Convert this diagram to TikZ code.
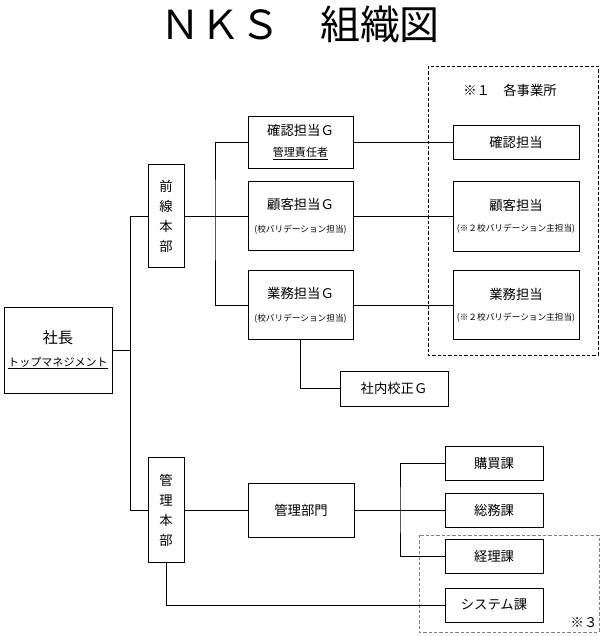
\documentclass[tikz,border=0pt]{standalone}
\usepackage{fontspec}
\setmainfont{Noto Sans CJK JP}
\usetikzlibrary{calc}

\tikzset{
  unit/.style={draw, line width=0.75pt, inner sep=0pt, align=center,
    font=\fontsize{10}{12}\selectfont},
  vunit/.style={unit, minimum width=27pt, font=\fontsize{10}{15}\selectfont},
  link/.style={line width=0.75pt}
}

\begin{document}
\begin{tikzpicture}[x=0.75pt,y=-0.75pt]
  \useasboundingbox (0,0) rectangle (609,636);
  % title
  \node (title) at (300,24) {\fontsize{30}{32}\selectfont ＮＫＳ　組織図};
  % president
  \node[unit, minimum width=81pt, minimum height=64.5pt] (pres) at (58,350)
    {{\fontsize{11.5}{13}\selectfont 社長}\\[5pt]{\fontsize{8.3}{10}\selectfont\underline{トップマネジメント}}};
  % head offices (vertical text)
  \node[vunit, minimum height=77.25pt] (front) at (166,216) {前\\線\\本\\部};
  \node[vunit, minimum height=78.75pt] (admin) at (166,510) {管\\理\\本\\部};
  % groups under the front office
  \node[unit, minimum width=78.75pt, minimum height=39pt] (checkG) at (300.5,142)
    {確認担当Ｇ\\[4pt]{\fontsize{8.3}{10}\selectfont\underline{管理責任者}}};
  \node[unit, minimum width=78.75pt, minimum height=51.75pt] (custG) at (300.5,216)
    {顧客担当Ｇ\\[5pt]{\fontsize{6.5}{7}\selectfont (校バリデーション担当)}};
  \node[unit, minimum width=78.75pt, minimum height=51.75pt] (bizG) at (300.5,305)
    {業務担当Ｇ\\[5pt]{\fontsize{6.5}{7}\selectfont (校バリデーション担当)}};
  \node[unit, minimum width=81pt, minimum height=26.25pt] (calG) at (394,388.5) {社内校正Ｇ};
  % each site
  \draw[dashed, dash pattern=on 2.5pt off 1.5pt, line width=0.6pt] (428,66) rectangle (598,355);
  \node (siteLbl) at (510,90) {\fontsize{10}{12}\selectfont ※１　各事業所};
  \node[unit, minimum width=94.5pt, minimum height=25.5pt] (check) at (516,142) {確認担当};
  \node[unit, minimum width=94.5pt, minimum height=52.5pt] (cust) at (516,216)
    {顧客担当\\[4pt]{\fontsize{6.5}{7}\selectfont (※２校バリデーション主担当)}};
  \node[unit, minimum width=94.5pt, minimum height=51.75pt] (biz) at (516,305)
    {業務担当\\[4pt]{\fontsize{6.5}{7}\selectfont (※２校バリデーション主担当)}};
  % administration
  \node[unit, minimum width=79.5pt, minimum height=40.5pt] (mgmt) at (301,510) {管理部門};
  \node[unit, minimum width=73.5pt, minimum height=25.5pt] (buy) at (494,463) {購買課};
  \node[unit, minimum width=73.5pt, minimum height=25.5pt] (gen) at (494,510) {総務課};
  \node[unit, minimum width=73.5pt, minimum height=25.5pt] (acct) at (494,556) {経理課};
  \node[unit, minimum width=73.5pt, minimum height=25.5pt] (sys) at (494,605) {システム課};
  \draw[gray, dashed, dash pattern=on 2.5pt off 1.5pt, line width=0.6pt] (419,535) rectangle (599,632);
  \node (note3) at (584,623) {\fontsize{10}{12}\selectfont ※３};
  % junctions
  \coordinate (trunk) at (130,216);
  \coordinate (fj) at (215,216);
  \coordinate (aj) at (400,510);
  % connectors
  \draw[link] (front.west) -- (trunk) |- (admin.west);
  \draw[link] (pres.east) -- (pres.east -| trunk);
  \draw[link] (front.east) -- (fj);
  \draw[link] (checkG.west) -| (fj) |- (bizG.west);
  \draw[link] (fj) -- (custG.west);
  \draw[link] (checkG.east) -- (check.west);
  \draw[link] (custG.east) -- (cust.west);
  \draw[link] (bizG.east) -- (biz.west);
  \draw[link] (bizG.south) |- (calG.west);
  \draw[link] (admin.east) -- (mgmt.west);
  \draw[link] (mgmt.east) -- (aj);
  \draw[link] (buy.west) -| (aj) |- (acct.west);
  \draw[link] (aj) -- (gen.west);
  \draw[link] (admin.south) |- (sys.west);
\end{tikzpicture}
\end{document}
